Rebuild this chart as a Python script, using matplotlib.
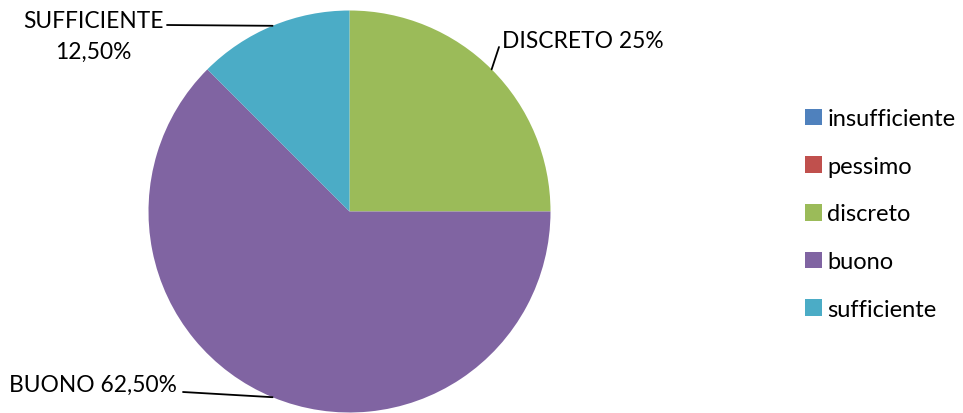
import numpy as np
import matplotlib
matplotlib.use('Agg')
import matplotlib.pyplot as plt
from matplotlib.patches import Patch

categories = ['insufficiente', 'pessimo', 'discreto', 'buono', 'sufficiente']
percentages = [0, 0, 25, 62.5, 12.5]
colors = ['#4F81BD', '#C0504D', '#9BBB59', '#8064A2', '#4BACC6']

plt.rcParams['font.family'] = ['Lato', 'DejaVu Sans']

W, H = 963, 414
fig = plt.figure(figsize=(W / 100, H / 100), dpi=100)

# pie area: centre (350, 213) px, radius 201 px
cx, cy, r = 349.5, 212.5, 201
ax = fig.add_axes([(cx - r) / W, (H - cy - r) / H, 2 * r / W, 2 * r / H])
wedges, _ = ax.pie(percentages, colors=colors, startangle=90, counterclock=False,
                   radius=1, wedgeprops=dict(linewidth=0))
ax.set_xlim(-1, 1)
ax.set_ylim(-1, 1)
ax.set_aspect('auto')
ax.axis('off')


def edge_point(w):
    mid = np.deg2rad((w.theta1 + w.theta2) / 2)
    return np.cos(mid), np.sin(mid)


def fmt(v):
    s = ('%.2f' % v).replace('.', ',') if v % 1 else '%d' % v
    return s + '%'


line_kw = dict(arrowstyle='-', lw=1.3, color='black', shrinkA=0, shrinkB=0)
fs = 16.4

# discreto
w = wedges[2]
ax.annotate('', xy=edge_point(w), xytext=(499, H - 48), textcoords='figure pixels',
            arrowprops=line_kw)
fig.text(502 / W, (H - 41) / H, 'DISCRETO ' + fmt(percentages[2]), fontsize=fs,
         ha='left', va='center')

# sufficiente
w = wedges[4]
ax.annotate('', xy=edge_point(w), xytext=(167, H - 26), textcoords='figure pixels',
            arrowprops=line_kw)
fig.text(93 / W, (H - 37) / H, 'SUFFICIENTE\n' + fmt(percentages[4]), fontsize=fs,
         ha='center', va='center', linespacing=1.55)

# buono
w = wedges[3]
ax.annotate('', xy=edge_point(w), xytext=(183, H - 393), textcoords='figure pixels',
            arrowprops=line_kw)
fig.text(9 / W, (H - 385) / H, 'BUONO ' + fmt(percentages[3]), fontsize=fs,
         ha='left', va='center')

handles = [Patch(facecolor=c, edgecolor='none') for c in colors]
fig.legend(handles, categories, loc='center left', bbox_to_anchor=(805 / W, (H - 215) / H),
           frameon=False, fontsize=17, handlelength=0.7, handleheight=0.7,
           handletextpad=0.25, labelspacing=1.13, borderpad=0, borderaxespad=0)

fig.savefig('out.png', dpi=100)
